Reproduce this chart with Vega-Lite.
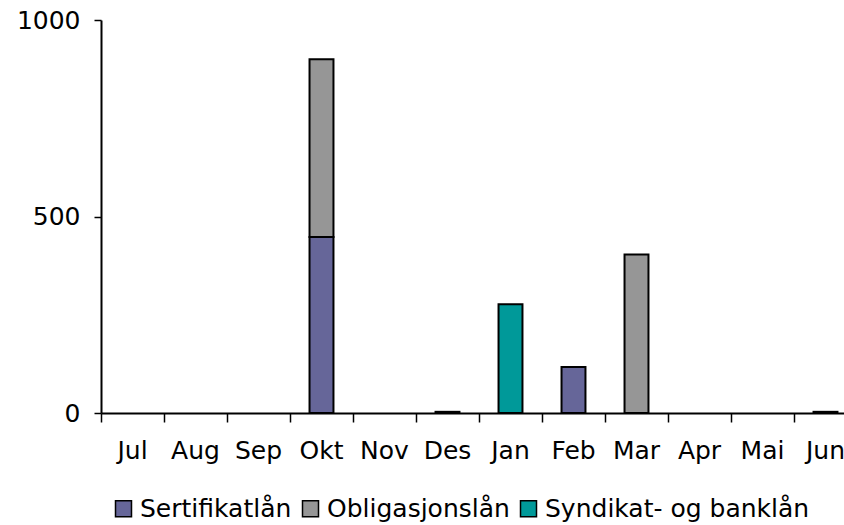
{
  "$schema": "https://vega.github.io/schema/vega-lite/v6.json",
  "autosize": {"type": "none"},
  "width": 743,
  "height": 393,
  "padding": {"left": 101, "top": 20, "right": 0, "bottom": 112},
  "background": "white",
  "config": {
    "view": {"stroke": null},
    "font": "DejaVu Sans"
  },
  "data": {
    "values": [
      {"maned": "Okt", "serie": "Sertifikatlån", "verdi": 448},
      {"maned": "Okt", "serie": "Obligasjonslån", "verdi": 452},
      {"maned": "Des", "serie": "Sertifikatlån", "verdi": 3},
      {"maned": "Jan", "serie": "Syndikat- og banklån", "verdi": 277},
      {"maned": "Feb", "serie": "Sertifikatlån", "verdi": 117},
      {"maned": "Mar", "serie": "Obligasjonslån", "verdi": 403},
      {"maned": "Jun", "serie": "Sertifikatlån", "verdi": 3}
    ]
  },
  "mark": {"type": "bar", "width": {"band": 0.38}, "stroke": "black", "strokeWidth": 2},
  "encoding": {
    "x": {
      "field": "maned",
      "type": "nominal",
      "sort": ["Jul", "Aug", "Sep", "Okt", "Nov", "Des", "Jan", "Feb", "Mar", "Apr", "Mai", "Jun"],
      "scale": {
        "domain": ["Jul", "Aug", "Sep", "Okt", "Nov", "Des", "Jan", "Feb", "Mar", "Apr", "Mai", "Jun"],
        "range": [0, 756],
        "paddingInner": 0,
        "paddingOuter": 0
      },
      "axis": {
        "title": null,
        "labelAngle": 0,
        "bandPosition": 0,
        "domainColor": "black",
        "domainWidth": 2,
        "tickColor": "black",
        "tickWidth": 1.5,
        "tickSize": 9,
        "labelPadding": 16,
        "labelFont": "DejaVu Sans",
        "labelFontSize": 25,
        "labelColor": "black",
        "grid": false
      }
    },
    "y": {
      "field": "verdi",
      "type": "quantitative",
      "aggregate": "sum",
      "stack": "zero",
      "scale": {"domain": [0, 1000], "nice": false},
      "axis": {
        "title": null,
        "values": [0, 500, 1000],
        "format": "d",
        "grid": false,
        "domainColor": "black",
        "domainWidth": 2,
        "tickColor": "black",
        "tickWidth": 1.5,
        "tickSize": 7,
        "labelPadding": 14,
        "labelFont": "DejaVu Sans",
        "labelFontSize": 25,
        "labelColor": "black"
      }
    },
    "order": {"field": "serie", "sort": "descending"},
    "color": {
      "field": "serie",
      "type": "nominal",
      "scale": {
        "domain": ["Sertifikatlån", "Obligasjonslån", "Syndikat- og banklån"],
        "range": ["#666699", "#969696", "#009999"]
      },
      "legend": {
        "title": null,
        "orient": "none",
        "legendX": 10,
        "legendY": 476,
        "direction": "horizontal",
        "symbolType": "square",
        "symbolSize": 256,
        "symbolStrokeColor": "black",
        "symbolStrokeWidth": 1.5,
        "symbolOpacity": 1,
        "labelFont": "DejaVu Sans",
        "labelFontSize": 25,
        "labelColor": "black",
        "labelLimit": 400,
        "labelOffset": 4,
        "columnPadding": 6
      }
    }
  }
}
